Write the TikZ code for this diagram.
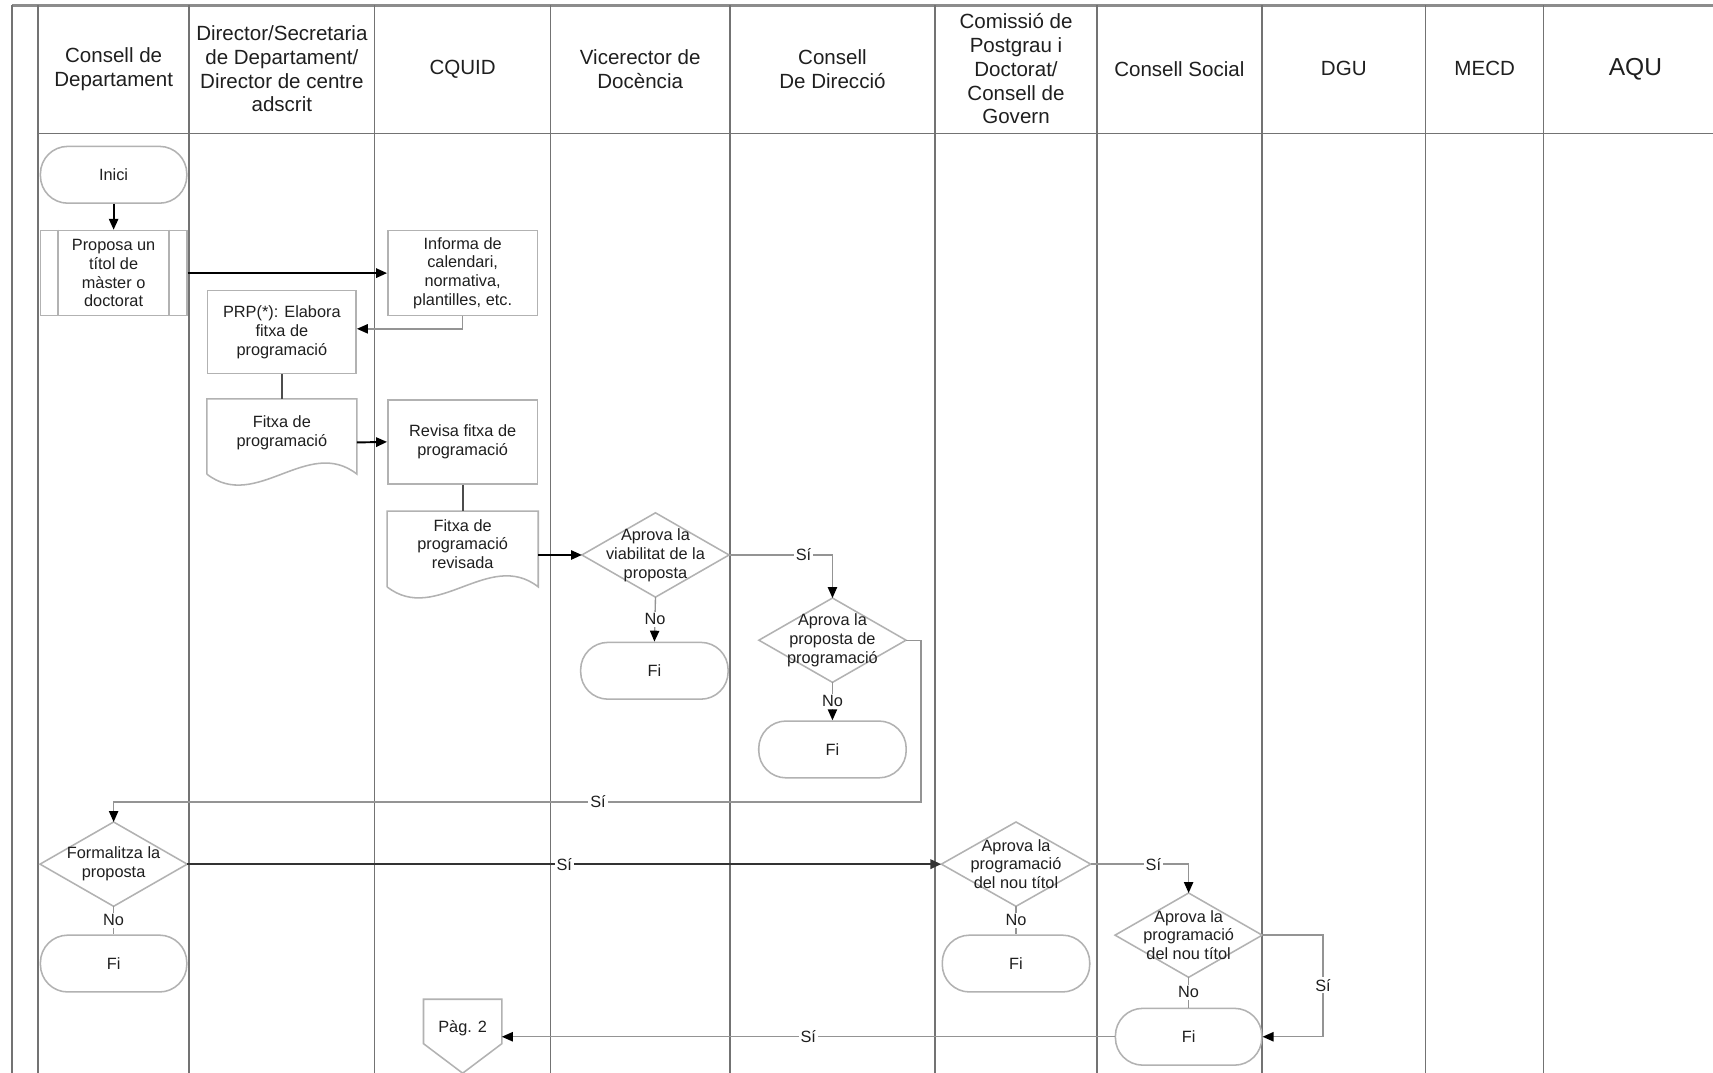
\documentclass[tikz,border=0pt]{standalone}
\usepackage{fontspec}
\setmainfont{Liberation Sans}
\usetikzlibrary{arrows.meta,calc}
\definecolor{lanegray}{gray}{0.45}
\definecolor{shapegray}{gray}{0.7}
\definecolor{flowgray}{gray}{0.58}
\definecolor{textgray}{gray}{0.12}

\begin{document}
\begin{tikzpicture}[
  x=0.02cm, y=-0.02cm,
  font=\fontsize{8.5}{9.8}\selectfont, text=textgray,
  lane/.style={draw=lanegray, line width=0.8pt},
  head/.style={align=center, font=\fontsize{10.7}{12.4}\selectfont},
  term/.style={draw=shapegray, line width=0.8pt, rounded corners=0.5cm, minimum width=2.68cm, minimum height=1.04cm},
  proc/.style={draw=shapegray, line width=0.8pt, align=center, minimum width=2.72cm, minimum height=1.54cm, inner sep=2pt},
  subproc/.style={proc, append after command={\pgfextra{
    \draw[shapegray, line width=0.8pt] ([xshift=0.34cm]\tikzlastnode.north west) -- ([xshift=0.34cm]\tikzlastnode.south west)
      ([xshift=-0.34cm]\tikzlastnode.north east) -- ([xshift=-0.34cm]\tikzlastnode.south east);}}},
  doc/.style={proc, draw=none, minimum height=1.57cm, text depth=0.42cm, append after command={\pgfextra{
    \draw[shapegray, line width=0.8pt] ([yshift=0.22cm]\tikzlastnode.south west) -- (\tikzlastnode.north west)
      -- (\tikzlastnode.north east) -- ([yshift=0.22cm]\tikzlastnode.south east)
      .. controls +(-0.9cm,0.7cm) and +(0.9cm,-0.7cm) .. ([yshift=0.22cm]\tikzlastnode.south west);}}},
  decision/.style={align=center, inner sep=0pt, minimum width=2.68cm, minimum height=1.53cm, append after command={\pgfextra{
    \draw[shapegray, line width=0.8pt] (\tikzlastnode.north) -- (\tikzlastnode.east) -- (\tikzlastnode.south)
      -- (\tikzlastnode.west) -- cycle;}}},
  offpage/.style={align=center, minimum width=1.42cm, minimum height=1.04cm, append after command={\pgfextra{
    \draw[shapegray, line width=0.8pt] (\tikzlastnode.north west) -- (\tikzlastnode.north east)
      -- ([yshift=0.24cm]\tikzlastnode.south east) -- ([yshift=-0.3cm]\tikzlastnode.south)
      -- ([yshift=0.24cm]\tikzlastnode.south west) -- cycle;}}},
  mainflow/.style={draw=black, line width=1pt, -{Triangle[length=0.2cm,width=0.17cm]}},
  flow/.style={draw=flowgray, line width=0.7pt, -{Triangle[length=0.2cm,width=0.17cm,color=black]}},
  link/.style={draw=black!70, line width=1pt},
  plain/.style={draw=flowgray, line width=0.7pt},
  ans/.style={fill=white, inner sep=1pt}
]
\useasboundingbox (0,0) rectangle (1568,982);
\fill[white] (0,0) rectangle (1568,982);

% lanes
\draw[lane, line width=1.3pt, draw=black!45] (11,5) -- (1568,5);
\draw[lane] (11,5) -- (11,982);
\draw[lane] (35,122) -- (1568,122);
\draw[lane] (35,5) -- (35,982) (173,5) -- (173,982) (343,5) -- (343,982) (504,5) -- (504,982)
  (668,5) -- (668,982) (856,5) -- (856,982) (1004,5) -- (1004,982) (1155,5) -- (1155,982)
  (1305,5) -- (1305,982) (1413,5) -- (1413,982);

\node[head] (hdep) at (104,63) {Consell de\\Departament};
\node[head] (hdir) at (258,63) {Director/Secretaria\\de Departament/\\Director de centre\\adscrit};
\node[head] (hcquid) at (423.5,63) {CQUID};
\node[head] (hvic) at (586,63) {Vicerector de\\Docència};
\node[head] (hcd) at (762,63) {Consell\\De Direcció};
\node[head] (hcom) at (930,63) {Comissió de\\Postgrau i\\Doctorat/\\Consell de\\Govern};
\node[head] (hcs) at (1079.5,63) {Consell Social};
\node[head] (hdgu) at (1230,63) {DGU};
\node[head] (hmecd) at (1359,63) {MECD};
\node[head, font=\fontsize{12.8}{15}\selectfont] (haqu) at (1497,63) {AQU};

% shapes
\node[term] (inici) at (104,160) {Inici};
\node[subproc, minimum width=2.68cm, minimum height=1.56cm] (proposa) at (104,250) {Proposa un\\títol de\\màster o\\doctorat};
\node[proc, minimum width=2.74cm, minimum height=1.56cm] (informa) at (423.5,250) {Informa de\\calendari,\\normativa,\\plantilles, etc.};
\node[proc, minimum height=1.52cm] (prp) at (258,304) {PRP(*): Elabora\\fitxa de\\programació};
\node[doc] (fitxa) at (258,405) {Fitxa de\\programació};
\node[proc, minimum width=2.74cm] (revisa) at (423.5,404.5) {Revisa fitxa de\\programació};
\node[doc, minimum width=2.74cm, minimum height=1.58cm, text depth=0.4cm] (revisada) at (423.5,508) {Fitxa de\\programació\\revisada};
\node[decision] (viab) at (600,508) {Aprova la\\viabilitat de la\\proposta};
\node[term, minimum width=2.7cm] (fiA) at (599,614) {Fi};
\node[decision] (propprog) at (762,586) {Aprova la\\proposta de\\programació};
\node[term, minimum width=2.7cm] (fiB) at (762,686) {Fi};
\node[decision] (formal) at (104,791) {Formalitza la\\proposta};
\node[term] (fiC) at (104,882) {Fi};
\node[decision, minimum width=2.72cm] (aprovaCG) at (930,791) {Aprova la\\programació\\del nou títol};
\node[term, minimum width=2.7cm] (fiD) at (930,882) {Fi};
\node[decision] (aprovaCS) at (1088,856) {Aprova la\\programació\\del nou títol};
\node[term] (fiE) at (1088,949) {Fi};
\node[offpage] (pag) at (423.5,941) {Pàg. 2};

\coordinate (loopA) at (843,734);
\coordinate (loopB) at (1211,902);

% connectors
\draw[mainflow] (inici.south) -- (proposa.north);
\draw[mainflow] (proposa.east) -- (informa.west);
\draw[flow] (informa.south) |- ([yshift=0.06cm]prp.east);
\draw[link] (prp.south) -- (fitxa.north);
\draw[mainflow] (fitxa.east) -- (revisa.west);
\draw[link] (revisa.south) -- (revisada.north);
\draw[mainflow] (revisada.east) -- (viab.west);
\draw[flow] (viab.east) -| node[ans, pos=0.36] {Sí} (propprog.north);
\draw[flow] (viab.south) -- node[ans] {No} (fiA.north);
\draw[flow] (propprog.south) -- node[ans] {No} (fiB.north);
\draw[flow] (propprog.east) -| (loopA) -- node[ans, pos=0.4] {Sí} (formal.north |- loopA) -- (formal.north);
\draw[plain] (formal.south) -- node[ans] {No} (fiC.north);
\draw[mainflow, line width=1.2pt, draw=black!80] (formal.east) -- node[ans] {Sí} (aprovaCG.west);
\draw[plain] (aprovaCG.south) -- node[ans] {No} (fiD.north);
\draw[flow] (aprovaCG.east) -| node[ans, pos=0.32] {Sí} (aprovaCS.north);
\draw[plain] (aprovaCS.south) -- node[ans] {No} (fiE.north);
\draw[flow] (aprovaCS.east) -| (loopB) node[ans] {Sí} |- (fiE.east);
\draw[flow] (fiE.west) -- node[ans] {Sí} (pag.east |- fiE.west);
\end{tikzpicture}
\end{document}
